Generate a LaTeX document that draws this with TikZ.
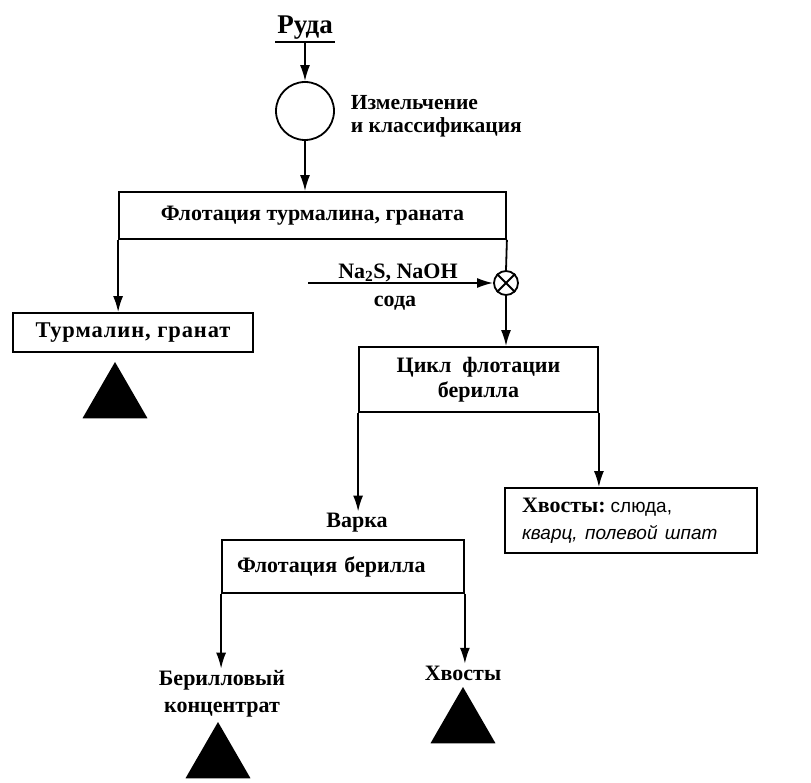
\documentclass[tikz,border=0pt]{standalone}
\usepackage{fontspec}
\setmainfont{Liberation Serif}
\newfontfamily\sansfont{Liberation Sans}
\usetikzlibrary{arrows.meta,shapes.geometric}

\begin{document}
\begin{tikzpicture}[x=1pt,y=-1pt,
  line width=1.8pt,
  arr/.style={-{Latex[length=16pt,width=10pt]}},
  txt/.style={font=\fontsize{22}{26}\selectfont\bfseries, inner sep=1pt},
  box/.style={draw, rectangle, inner sep=0pt, align=center,
    font=\fontsize{22}{25}\selectfont\bfseries},
  waste/.style={regular polygon, regular polygon sides=3, fill=black,
    draw=none, inner sep=0pt, outer sep=0pt, minimum size=75pt}
]
\useasboundingbox (0,0) rectangle (811,783);

% ore and grinding
\node[txt, font=\fontsize{27}{30}\selectfont\bfseries, anchor=south,
  inner xsep=1pt, inner ysep=2pt] (ore) at (305,42) {Руда};
\draw (ore.south west) -- (ore.south east);
\node[draw, circle, minimum size=58pt, inner sep=0pt] (mill) at (305,111) {};
\node[txt, anchor=west, align=left, font=\fontsize{21.5}{23}\selectfont\bfseries]
  (millL) at (349,116) {Измельчение\\и классификация};

% first flotation
\node[box, minimum width=387pt, minimum height=47pt, text depth=4pt]
  (b1) at (312.5,215.5) {Флотация турмалина, граната};
\node[box, minimum width=240pt, minimum height=39pt] (b2) at (133,332.5)
  {\addfontfeature{LetterSpace=4}\fontsize{22.5}{25}\selectfont Турмалин, гранат};
\node[waste, anchor=corner 1] (t1) at (115,362) {};

% reagent feed
\node[draw, circle, minimum size=24pt, inner sep=0pt] (mix) at (506,283) {};
\draw (mix.north west) -- (mix.south east);
\draw (mix.north east) -- (mix.south west);
\coordinate (feed) at (308,283);
\node[txt] (reag) at (398,273) {Na\textsubscript{2}S, NaOH};
\node[txt] (soda) at (395,303) {сода};

% beryl flotation cycle
\node[box, minimum width=239pt, minimum height=65pt] (b3) at (478.5,379.5)
  {Цикл\ \ флотации\\берилла};
\node[txt] (vark) at (357,523) {Варка};
\node[box, minimum width=252pt, minimum height=65pt, text width=218pt,
  inner xsep=17pt, align=left, font=\fontsize{22}{27}\selectfont\bfseries]
  (b5) at (631,520.5)
  {Хвосты:\hspace{5pt}{\sansfont\mdseries\fontsize{19}{27}\selectfont слюда,}\\%
   {\sansfont\mdseries\itshape\fontsize{19}{27}\selectfont кварц, полевой шпат}};
\node[box, minimum width=242pt, minimum height=53pt, text width=212pt,
  inner xsep=15pt, align=left] (b4) at (343,566.5) {Флотация берилла};
\node[txt, align=center, font=\fontsize{22}{27}\selectfont\bfseries]
  (beryl) at (222,694) {Берилловый\\концентрат};
\node[waste, anchor=corner 1] (t2) at (218,722) {};
\node[txt] (tail) at (463,673) {Хвосты};
\node[waste, anchor=corner 1] (t3) at (463,687) {};

% flows
\draw[arr] (ore.south) -- (mill.north);
\draw[arr] (mill.south) -- (mill.south |- b1.north);
\draw[arr] (b1.south west) -- (b1.south west |- b2.north);
\draw (b1.south east) -- (mix.north);
\draw[arr] (feed) -- (mix.west);
\draw[arr] (mix.south) -- (mix.south |- b3.north);
\draw[arr] (b3.south west) -- (b3.south west |- vark.north);
\draw[arr] (b3.south east) -- (b3.south east |- b5.north);
\draw[arr] (b4.south west) -- (b4.south west |- beryl.north);
\draw[arr] (b4.south east) -- (b4.south east |- tail.north);
\end{tikzpicture}
\end{document}
